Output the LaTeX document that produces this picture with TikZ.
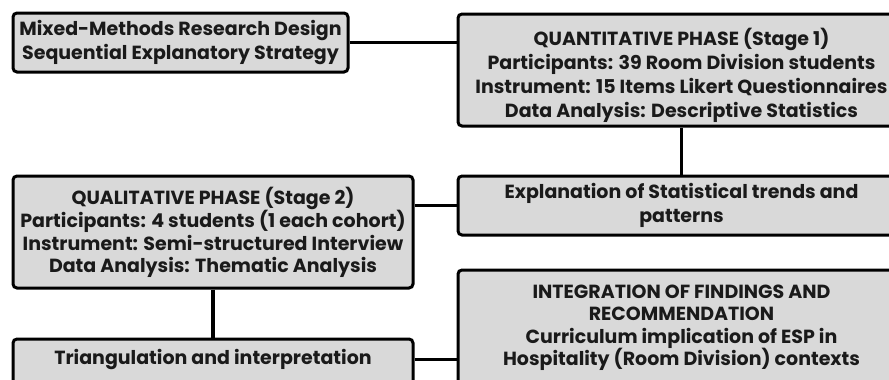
\documentclass[tikz,border=0pt]{standalone}
\usepackage{fontspec}
\setmainfont{Poppins}
\definecolor{boxfill}{HTML}{D9D9D9}
\definecolor{ink}{HTML}{1A1A1A}
\tikzset{
  stage/.style={draw=black, line width=3pt, fill=boxfill, rounded corners=4pt,
    align=center, text=ink, font=\bfseries\fontsize{19}{24}\selectfont,
    inner sep=0pt},
  tight/.style={font=\bfseries\fontsize{19}{22.5}\selectfont},
  link/.style={line width=3.5pt, draw=black}
}
\begin{document}
\begin{tikzpicture}[x=1pt,y=-1pt]
\clip (0,0) rectangle (889,380);
\fill[white] (0,0) rectangle (889,380);

\node[stage, minimum width=335pt, minimum height=59pt] (mm) at (180.5,42.5)
  {Mixed-Methods Research Design\\Sequential Explanatory Strategy};
\node[stage, minimum width=447pt, minimum height=112pt] (quant) at (681.5,70)
  {QUANTITATIVE PHASE (Stage 1)\\Participants: 39 Room Division students\\
   Instrument: 15 Items Likert Questionnaires\\Data Analysis: Descriptive Statistics\\[-29pt]\mbox{}};
\node[stage, minimum width=447pt, minimum height=59pt] (expl) at (681.5,205.5)
  {Explanation of Statistical trends and\\patterns};
\node[stage, tight, minimum width=400pt, minimum height=112pt] (qual) at (213,232)
  {QUALITATIVE PHASE (Stage 2)\\Participants: 4 students (1 each cohort)\\
   Instrument: Semi-structured Interview\\Data Analysis: Thematic Analysis\\[-18pt]\mbox{}};
\node[stage, minimum width=400pt, minimum height=59pt] (tri) at (213,368.5)
  {Triangulation and interpretation\\\mbox{}};
\node[stage, tight, minimum width=447pt, minimum height=133pt] (integ) at (681.5,336.5)
  {INTEGRATION OF FINDINGS AND\\RECOMMENDATION\\Curriculum implication of ESP in\\
   Hospitality (Room Division) contexts\\\mbox{}};

\coordinate (tj) at ([yshift=-22pt]tri.north east);
\draw[link] (mm.east) -- (mm.east -| quant.west);
\draw[link] (quant.south) -- (expl.north);
\draw[link] (expl.west) -- (expl.west -| qual.east);
\draw[link] (qual.south) -- (tri.north);
\draw[link] (tj) -- (tj -| integ.west);
\end{tikzpicture}
\end{document}
